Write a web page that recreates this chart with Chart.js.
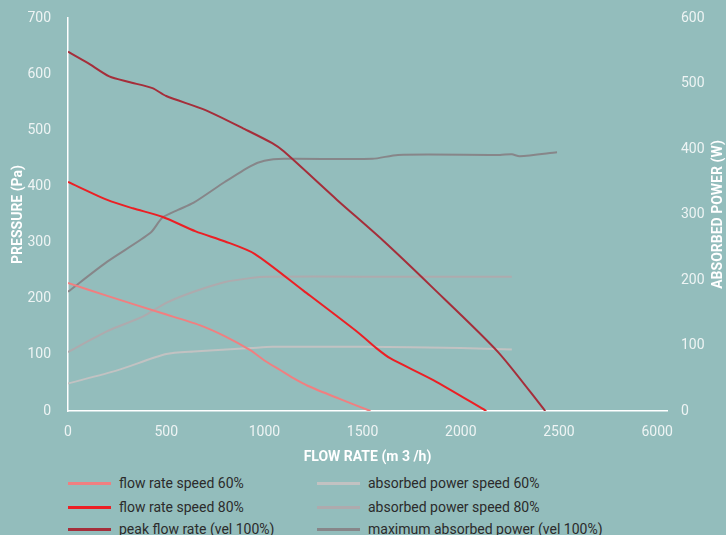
<!DOCTYPE html>
<html>
<head>
<meta charset="utf-8">
<script src="https://cdn.jsdelivr.net/npm/chart.js@4"></script>
<style>
  html, body { margin: 0; padding: 0; background: #93bdbc; }
  #wrap { position: relative; width: 726px; height: 535px; }
  #chartBox { position: absolute; left: 0; top: 0; width: 726px; height: 470px; }
  #legend { position: absolute; left: 0; top: 472px; width: 726px; font-family: Roboto, sans-serif; font-size: 14px; color: #2b2b2b; }
  .lg-item { position: absolute; display: flex; align-items: center; white-space: nowrap; }
  .lg-swatch { width: 43px; height: 3px; margin-right: 8px; }
</style>
</head>
<body>
<div id="wrap">
  <div id="chartBox"><canvas id="c"></canvas></div>
  <div id="legend"></div>
</div>
<script>
// flow rate axis: evenly spaced ticks, last one labelled 6000 as in the source
const xTickValues = [0, 500, 1000, 1500, 2000, 2500, 3000];
const xTickLabels = ['0', '500', '1000', '1500', '2000', '2500', '6000'];

// pressure curves (Pa) vs flow rate (m3/h)
const flow60X = [0, 200, 480, 670, 800, 930, 1000, 1080, 1150, 1220, 1380, 1540];
const flow60Y = [228, 205, 174, 153, 133, 108, 90, 73, 58, 45, 22, 0];

const flow80X = [0, 200, 330, 480, 650, 800, 950, 1200, 1480, 1570, 1640, 1860, 2130];
const flow80Y = [408, 376, 361, 346, 320, 302, 280, 214, 139, 112, 94, 55, 0];

const peakX = [0, 100, 210, 310, 430, 500, 700, 900, 1040, 1100, 1370, 1600, 1850, 2190, 2430];
const peakY = [640, 620, 596, 586, 575, 561, 536, 502, 477, 462, 376, 305, 222, 105, 0];

// absorbed power curves (W) vs flow rate
const pow60X = [0, 250, 500, 640, 930, 1040, 1500, 2000, 2260];
const pow60Y = [42, 62, 87, 91, 96, 98, 98, 96, 94];

const pow80X = [0, 200, 380, 500, 640, 800, 930, 1010, 1500, 2260];
const pow80Y = [90, 122, 144, 165, 182, 197, 203, 205, 205, 205];

const powMaxX = [0, 200, 420, 480, 560, 640, 800, 930, 1000, 1100, 1550, 1680, 2200, 2260, 2300, 2490];
const powMaxY = [182, 228, 272, 295, 307, 318, 350, 374, 382, 385, 385, 391, 391, 392, 389, 395];

const pts = (xs, ys) => xs.map((x, i) => ({ x, y: ys[i] }));

const series = [
  { label: 'flow rate speed 60%', xs: flow60X, ys: flow60Y, color: '#f07f80', axis: 'y' },
  { label: 'flow rate speed 80%', xs: flow80X, ys: flow80Y, color: '#ec1f24', axis: 'y' },
  { label: 'peak flow rate (vel 100%)', xs: peakX, ys: peakY, color: '#a52e3a', axis: 'y' },
  { label: 'absorbed power speed 60%', xs: pow60X, ys: pow60Y, color: '#c2c2c2', axis: 'y2' },
  { label: 'absorbed power speed 80%', xs: pow80X, ys: pow80Y, color: '#aeaaad', axis: 'y2' },
  { label: 'maximum absorbed power (vel 100%)', xs: powMaxX, ys: powMaxY, color: '#878689', axis: 'y2' },
];

const tickFont = { family: 'Roboto', size: 14 };
const titleFont = { family: 'Roboto', size: 14, weight: 'bold' };
const tickColor = '#eef4f4';

// right axis title reads bottom-to-top in the source, so draw it by hand
const rightTitle = {
  id: 'rightTitle',
  afterDraw(chart) {
    const { ctx, chartArea } = chart;
    ctx.save();
    ctx.translate(718, (chartArea.top + chartArea.bottom) / 2);
    ctx.rotate(-Math.PI / 2);
    ctx.font = 'bold 14px Roboto';
    ctx.fillStyle = '#ffffff';
    ctx.textAlign = 'center';
    ctx.textBaseline = 'middle';
    ctx.fillText('ABSORBED POWER (W)', 0, 0);
    ctx.restore();
  }
};

new Chart(document.getElementById('c'), {
  type: 'line',
  data: {
    datasets: series.map(s => ({
      label: s.label,
      data: pts(s.xs, s.ys),
      yAxisID: s.axis,
      borderColor: s.color,
      borderWidth: 2,
      pointRadius: 0,
      tension: 0.25,
      fill: false,
    }))
  },
  options: {
    responsive: true,
    maintainAspectRatio: false,
    animation: false,
    layout: { padding: { top: 18, right: 0, left: 6, bottom: 0 } },
    plugins: { legend: { display: false }, tooltip: { enabled: false } },
    scales: {
      x: {
        type: 'linear', min: 0, max: 3050,
        afterBuildTicks: (sc) => { sc.ticks = xTickValues.map(v => ({ value: v })); },
        afterFit: (sc) => { sc.height = 59; },
        ticks: {
          color: tickColor, font: tickFont, padding: 5, maxRotation: 0,
          callback: (v) => xTickLabels[xTickValues.indexOf(v)],
        },
        grid: { display: false },
        border: { display: true, color: '#ffffff', width: 1.5 },
        title: { display: true, text: 'FLOW RATE (m 3 /h)', color: '#ffffff', font: titleFont, padding: { top: 9 } },
      },
      y: {
        position: 'left', min: 0, max: 700,
        afterFit: (sc) => { sc.width = 62; },
        ticks: { stepSize: 100, color: tickColor, font: tickFont, padding: 9 },
        grid: { display: false },
        border: { display: true, color: '#ffffff', width: 1.5 },
        title: { display: true, text: 'PRESSURE (Pa)', color: '#ffffff', font: titleFont, padding: { bottom: 2 } },
      },
      y2: {
        position: 'right', min: 0, max: 600,
        afterFit: (sc) => { sc.width = 59; },
        ticks: { stepSize: 100, color: tickColor, font: tickFont, padding: 6 },
        grid: { display: false },
        border: { display: false },
      },
    }
  },
  plugins: [rightTitle]
});

// two-column legend, filled column by column
const legend = document.getElementById('legend');
const colX = [68, 317];
const rowY = [3, 27, 49];
series.forEach((s, i) => {
  const el = document.createElement('div');
  el.className = 'lg-item';
  el.style.left = colX[Math.floor(i / 3)] + 'px';
  el.style.top = rowY[i % 3] + 'px';
  el.innerHTML = `<span class="lg-swatch" style="background:${s.color}"></span><span>${s.label}</span>`;
  legend.appendChild(el);
});
</script>
</body>
</html>
